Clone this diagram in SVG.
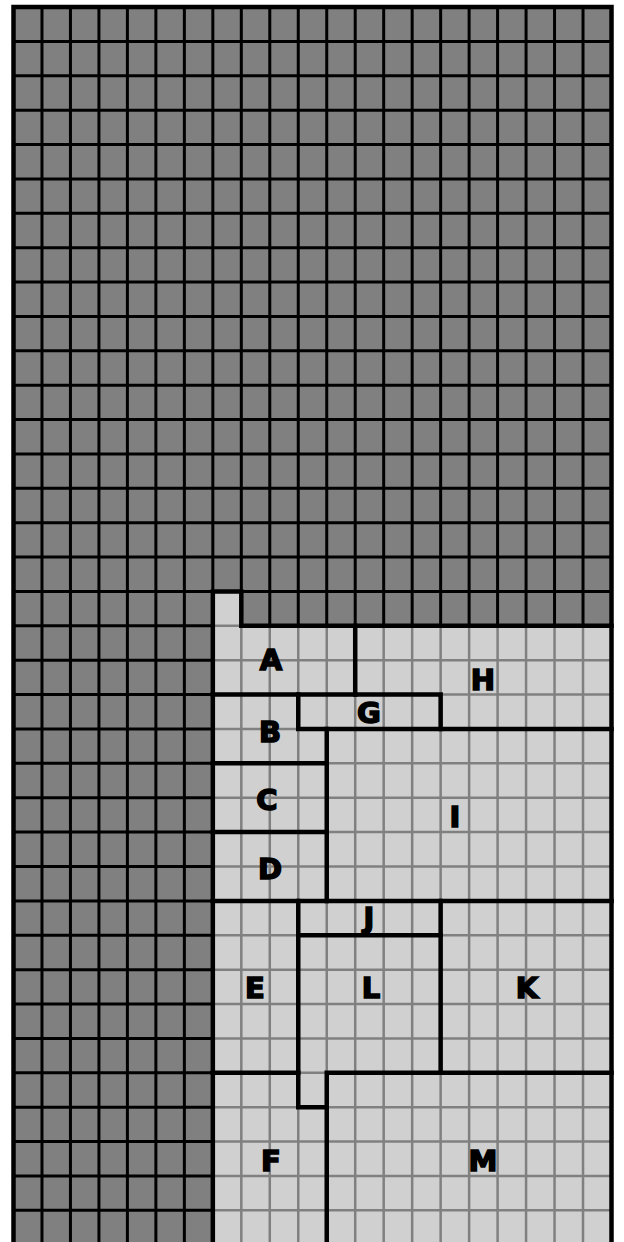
<svg xmlns="http://www.w3.org/2000/svg" width="624" height="1242" viewBox="0 0 624 1242">
<style>
.dark{fill:#808080}
.light{fill:#d0d0d0}
.dgrid{stroke:#000;stroke-width:3;fill:none}
.lgrid{stroke:#808080;stroke-width:2.5;fill:none}
.wall{stroke:#000;stroke-width:4.5;fill:none;stroke-linecap:square;stroke-linejoin:miter}
.lbl{font-family:"DejaVu Sans","Liberation Sans",sans-serif;font-weight:bold;font-size:29px;text-anchor:middle;fill:#000;stroke:#000;stroke-width:1.6;stroke-linejoin:miter}
</style>
<defs>
<clipPath id="lightClip"><path d="M212.83 591.46H241.31V625.84H611.5V1250H212.83Z"/></clipPath>
</defs>
<rect width="624" height="1242" fill="#fff"/>
<g id="background">
<rect class="dark" x="13.5" y="7" width="598" height="1240"/>
<path class="dgrid" d="M41.98 7V1250M70.45 7V1250M98.93 7V1250M127.4 7V1250M155.88 7V1250M184.36 7V1250M212.83 7V1250M241.31 7V1250M269.78 7V1250M298.26 7V1250M326.74 7V1250M355.21 7V1250M383.69 7V1250M412.16 7V1250M440.64 7V1250M469.12 7V1250M497.59 7V1250M526.07 7V1250M554.54 7V1250M583.02 7V1250
M13.5 41.38H611.5M13.5 75.76H611.5M13.5 110.14H611.5M13.5 144.52H611.5M13.5 178.9H611.5M13.5 213.28H611.5M13.5 247.66H611.5M13.5 282.04H611.5M13.5 316.42H611.5M13.5 350.8H611.5M13.5 385.18H611.5M13.5 419.56H611.5M13.5 453.94H611.5M13.5 488.32H611.5M13.5 522.7H611.5M13.5 557.08H611.5M13.5 591.46H611.5M13.5 625.84H611.5M13.5 660.22H611.5M13.5 694.6H611.5M13.5 728.98H611.5M13.5 763.36H611.5M13.5 797.74H611.5M13.5 832.12H611.5M13.5 866.5H611.5M13.5 900.88H611.5M13.5 935.26H611.5M13.5 969.64H611.5M13.5 1004.02H611.5M13.5 1038.4H611.5M13.5 1072.78H611.5M13.5 1107.16H611.5M13.5 1141.54H611.5M13.5 1175.92H611.5M13.5 1210.3H611.5"/>
</g>
<g id="lightArea" clip-path="url(#lightClip)">
<rect class="light" x="212" y="590" width="400" height="660"/>
<path class="lgrid" d="M241.31 580V1250M269.78 580V1250M298.26 580V1250M326.74 580V1250M355.21 580V1250M383.69 580V1250M412.16 580V1250M440.64 580V1250M469.12 580V1250M497.59 580V1250M526.07 580V1250M554.54 580V1250M583.02 580V1250
M210 625.84H612M210 660.22H612M210 694.6H612M210 728.98H612M210 763.36H612M210 797.74H612M210 832.12H612M210 866.5H612M210 900.88H612M210 935.26H612M210 969.64H612M210 1004.02H612M210 1038.4H612M210 1072.78H612M210 1107.16H612M210 1141.54H612M210 1175.92H612M210 1210.3H612"/>
</g>
<g id="walls">
<rect class="wall" x="13.5" y="7" width="598" height="1245"/>
<path class="wall" d="M212.83 1250V591.46H241.31V625.84H611.5"/>
<path class="wall" d="M355.21 625.84V694.6"/>
<path class="wall" d="M212.83 694.6H440.64V728.98"/>
<path class="wall" d="M298.26 694.6V728.98H611.5"/>
<path class="wall" d="M326.74 728.98V900.88"/>
<path class="wall" d="M212.83 763.36H326.74"/>
<path class="wall" d="M212.83 832.12H326.74"/>
<path class="wall" d="M212.83 900.88H611.5"/>
<path class="wall" d="M298.26 900.88V1107.16H326.74"/>
<path class="wall" d="M298.26 935.26H440.64"/>
<path class="wall" d="M440.64 900.88V1072.78"/>
<path class="wall" d="M212.83 1072.78H298.26"/>
<path class="wall" d="M326.74 1250V1072.78H611.5"/>
</g>
<g id="node-A"><text class="lbl" x="271" y="670">A</text></g>
<g id="node-H"><text class="lbl" x="483" y="690">H</text></g>
<g id="node-G"><text class="lbl" x="369" y="723">G</text></g>
<g id="node-B"><text class="lbl" x="270" y="742">B</text></g>
<g id="node-C"><text class="lbl" x="267" y="810">C</text></g>
<g id="node-I"><text class="lbl" x="455" y="827">I</text></g>
<g id="node-D"><text class="lbl" x="270" y="879">D</text></g>
<g id="node-J"><text class="lbl" x="369" y="928">J</text></g>
<g id="node-E"><text class="lbl" x="255" y="998">E</text></g>
<g id="node-L"><text class="lbl" x="371" y="998">L</text></g>
<g id="node-K"><text class="lbl" x="527" y="998">K</text></g>
<g id="node-F"><text class="lbl" x="271" y="1171">F</text></g>
<g id="node-M"><text class="lbl" x="483" y="1171">M</text></g>
</svg>
